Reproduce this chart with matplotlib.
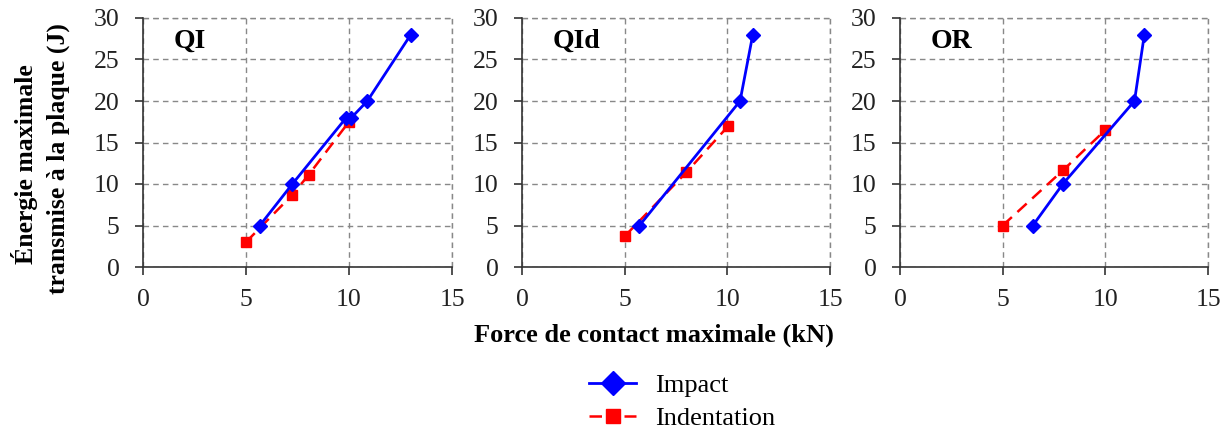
import matplotlib
matplotlib.use("Agg")
import matplotlib.pyplot as plt
from matplotlib.lines import Line2D

plt.rcParams['font.family'] = ['Liberation Serif', 'DejaVu Serif']

panels = ["QI", "QId", "OR"]
impact_x = {
    "QI": [5.67, 7.25, 9.87, 10.12, 10.89, 13.0],
    "QId": [5.72, 10.62, 11.24],
    "OR": [6.47, 7.93, 11.42, 11.9],
}
impact_y = {
    "QI": [5, 10, 18, 18, 20, 28],
    "QId": [5, 20, 28],
    "OR": [5, 10, 20, 28],
}
indent_x = {
    "QI": [5.0, 7.25, 8.04, 10.0],
    "QId": [5.0, 8.0, 10.05],
    "OR": [5.0, 7.96, 10.0],
}
indent_y = {
    "QI": [3.0, 8.7, 11.1, 17.5],
    "QId": [3.7, 11.4, 17.0],
    "OR": [5.0, 11.7, 16.5],
}
xticks = [0, 5, 10, 15]
yticks = [0, 5, 10, 15, 20, 25, 30]

fig = plt.figure(figsize=(12.3, 4.34), dpi=100)
W, H = 1230, 434
lefts = [143, 522, 900]
rights = [452, 830, 1208]
top, bottom = 18, 267
grid_ls = (0, (4, 3))

for name, l, r in zip(panels, lefts, rights):
    ax = fig.add_axes([l / W, 1 - bottom / H, (r - l) / W, (bottom - top) / H])
    ax.plot(indent_x[name], indent_y[name], color='#ff0000', ls=(0, (5, 3)), lw=1.8,
            marker='s', ms=7, mfc='#ff0000', mec='#ff0000', zorder=3)
    ax.plot(impact_x[name], impact_y[name], color='#0000ff', ls='-', lw=2,
            marker='D', ms=7, mfc='#0000ff', mec='#0000ff', zorder=4)
    ax.set_xlim(0, 15)
    ax.set_ylim(0, 30)
    ax.set_xticks(xticks)
    ax.set_yticks(yticks)
    ax.grid(True, color='#888888', ls=grid_ls, lw=1)
    ax.set_axisbelow(True)
    for s in ['top', 'right']:
        ax.spines[s].set_visible(False)
    for s in ['left', 'bottom']:
        ax.spines[s].set_color('#333333')
        ax.spines[s].set_linewidth(1.2)
    ax.tick_params(direction='out', length=6, width=1.2, labelsize=18.5,
                   colors='#333333', labelcolor='#222222')
    ax.tick_params(axis='x', pad=10)
    ax.tick_params(axis='y', pad=11)
    ax.axhline(30, color='#888888', ls=grid_ls, lw=1, zorder=0, clip_on=False)
    ax.axvline(15, color='#888888', ls=grid_ls, lw=1, zorder=0, clip_on=False)
    ax.text(0.1, 0.905, name, transform=ax.transAxes, fontsize=20,
            fontweight='bold', va='center', ha='left')

fig.text(25 / W, 1 - 164 / H, "Énergie maximale", rotation=90, ha='center',
         va='center', fontsize=18.5, fontweight='bold')
fig.text(58 / W, 1 - 159 / H, "transmise à la plaque (J)", rotation=90,
         ha='center', va='center', fontsize=18.5, fontweight='bold')
fig.text(654 / W, 1 - 335 / H, "Force de contact maximale (kN)",
         ha='center', va='center', fontsize=19, fontweight='bold')

handles = [
    Line2D([], [], color='#0000ff', lw=2, marker='D', ms=12, mfc='#0000ff'),
    Line2D([], [], color='#ff0000', lw=1.8, ls=(0, (5, 2)), marker='s', ms=10, mfc='#ff0000'),
]
fig.legend(handles, ["Impact", "Indentation"], loc='center',
           bbox_to_anchor=(682 / W, 1 - 402 / H), frameon=False, fontsize=19,
           handlelength=1.8, labelspacing=0.35, handletextpad=0.7)

fig.savefig("out.png", dpi=100)
